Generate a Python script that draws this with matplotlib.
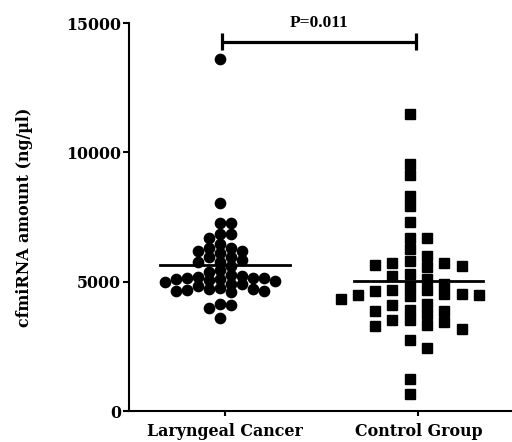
import numpy as np
import matplotlib
matplotlib.use('Agg')
import matplotlib.pyplot as plt

groups = ['Laryngeal Cancer', 'Control Group']

# cfmiRNA amount (ng/ul)
cancer = [13600, 8030, 7255, 7255, 6840, 6840, 6670, 6440, 6285, 6285,
          6180, 6190, 6115, 5960, 5960, 5830, 5765, 5765, 5600, 5440,
          5375, 5220, 5145, 5090, 5145, 5115, 5180, 5245, 5155, 5050,
          4990, 5025, 4925, 4895, 4820, 4730, 4705, 4765, 4640, 4640,
          4665, 4600, 4080, 3990, 4120, 3600]
control = [11500, 9550, 9135, 8315, 7940, 7305, 6675, 6675, 6255, 5975,
           5790, 5740, 5725, 5635, 5615, 5570, 5285, 5210, 5120, 4925,
           4830, 4690, 4690, 4640, 4535, 4510, 4470, 4470, 4430, 4325,
           4145, 4080, 3915, 3850, 3850, 3760, 3525, 3515, 3460, 3340,
           3285, 3180, 2750, 2435, 1230, 670]
p_text = 'P=0.011'
y_ticks = [0, 5000, 10000, 15000]


def grid_swarm(values, step, min_gap):
    # put points on half-step columns, nearest the centre first,
    # so that no two in one column are closer than min_gap
    values = np.asarray(values, dtype=float)
    order = np.argsort(values)[::-1]
    cols = {}
    offs = np.zeros(len(values))
    for i in order:
        k = 0
        while True:
            s = (k // 2 + 0.5) * (-1 if k % 2 == 0 else 1)
            col = cols.setdefault(s, [])
            if all(abs(values[i] - v) >= min_gap for v in col):
                col.append(values[i])
                offs[i] = s * step
                break
            k += 1
    return offs


fig = plt.figure(figsize=(5.12, 4.42), dpi=100)
ax = fig.add_axes([0.251, 0.0701, 0.755, 0.8778])

serif = ['DejaVu Serif']

# Laryngeal cancer: round dots
x0 = 0 + grid_swarm(cancer, 0.057, 310)
ax.plot(x0, cancer, 'o', color='black', markersize=7.4, linestyle='none',
        clip_on=False)
ax.plot([-0.335, 0.335], [np.mean(cancer)] * 2, color='black', lw=2.0)

# Control group: squares
x1 = 1 + grid_swarm(control, 0.0895, 370)
ax.plot(x1, control, 's', color='black', markersize=6.5, linestyle='none',
        clip_on=False)
ax.plot([1 - 0.335, 1 + 0.335], [np.mean(control)] * 2, color='black', lw=2.0)

# significance bracket
yb = 14280
ax.plot([-0.014, 0.986], [yb, yb], color='black', lw=2.3, clip_on=False,
        solid_capstyle='butt')
for xb in (-0.014, 0.986):
    ax.plot([xb, xb], [yb - 330, yb + 350], color='black', lw=2.3,
            clip_on=False, solid_capstyle='butt')
ax.text(0.486, yb + 400, p_text, ha='center', va='bottom',
        fontfamily='Liberation Serif', fontweight='bold', fontsize=12.5)

ax.set_xlim(-0.5, 1.5)
ax.set_ylim(0, 15000)
ax.set_xticks([0, 1])
ax.set_xticklabels(groups, fontfamily=serif, fontweight='bold', fontsize=11.4)
ax.set_yticks(y_ticks)
ax.set_yticklabels([str(t) for t in y_ticks], fontfamily=serif,
                   fontweight='bold', fontsize=11.4)
ax.set_ylabel('cfmiRNA amount (ng/µl)', fontfamily=serif, fontweight='bold',
              fontsize=11.4)
ax.yaxis.set_label_coords(-0.247, 0.5)

for side in ('top', 'right'):
    ax.spines[side].set_visible(False)
for side in ('left', 'bottom'):
    ax.spines[side].set_linewidth(1.5)
ax.tick_params(axis='y', length=4, width=1.5, pad=1.5)
ax.tick_params(axis='x', length=3.5, width=1.5, pad=5)

fig.savefig('out.png', dpi=100)
